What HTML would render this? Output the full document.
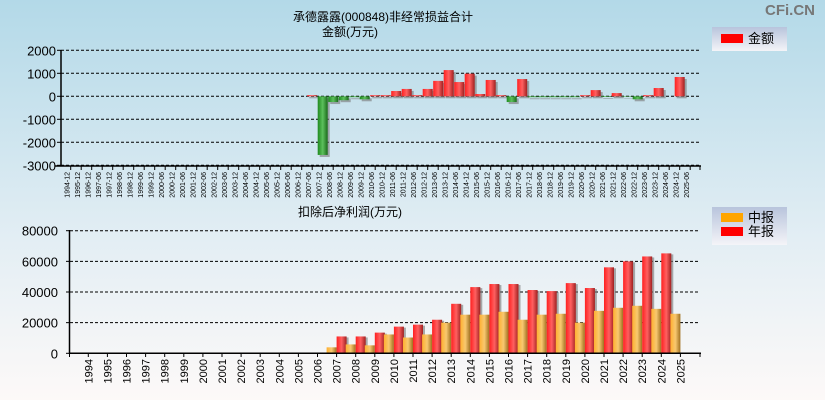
<!DOCTYPE html>
<html><head><meta charset="utf-8"><style>
html,body{margin:0;padding:0;}
body{width:825px;height:400px;overflow:hidden;font-family:"Liberation Sans","Noto Sans CJK SC",sans-serif;}
</style></head><body>
<svg id="c" width="825" height="400" xmlns="http://www.w3.org/2000/svg" style="font-family:'Liberation Sans','Noto Sans CJK SC',sans-serif">
<defs>
<linearGradient id="bg" x1="0" y1="0" x2="0" y2="1"><stop offset="0" stop-color="#b3d9e8"/><stop offset="0.6" stop-color="#e3eef4"/><stop offset="1" stop-color="#fdf9f8"/></linearGradient>
<linearGradient id="gr" x1="0" y1="0" x2="1" y2="0"><stop offset="0" stop-color="#ff2020"/><stop offset="0.5" stop-color="#ff6060"/><stop offset="1" stop-color="#a02020"/></linearGradient>
<linearGradient id="gg" x1="0" y1="0" x2="1" y2="0"><stop offset="0" stop-color="#1f8a1f"/><stop offset="0.5" stop-color="#5cc05c"/><stop offset="1" stop-color="#1a6a1a"/></linearGradient>
<linearGradient id="go" x1="0" y1="0" x2="1" y2="0"><stop offset="0" stop-color="#ffb030"/><stop offset="0.5" stop-color="#f8c870"/><stop offset="1" stop-color="#a07020"/></linearGradient>
<linearGradient id="lg" x1="0" y1="0" x2="0" y2="1"><stop offset="0" stop-color="#b8c4dc"/><stop offset="1" stop-color="#f4f4f8"/></linearGradient>
</defs>
<rect width="825" height="400" fill="url(#bg)"/>
<text x="790" y="15" font-size="15" fill="#777" font-weight="bold" text-anchor="middle">CFi.CN</text>
<text x="383" y="21" font-size="12" text-anchor="middle">承德露露(000848)非经常损益合计</text>
<text x="350" y="36" font-size="12" text-anchor="middle">金额(万元)</text>
<text x="350" y="216" font-size="12" text-anchor="middle">扣除后净利润(万元)</text>
<g>
<rect x="712" y="27" width="75" height="24" fill="url(#lg)"/>
<rect x="721" y="34" width="22" height="9" fill="#ff0000"/>
<text x="748" y="43" font-size="13">金额</text>
</g>
<g>
<rect x="712" y="207" width="75" height="38" fill="url(#lg)"/>
<rect x="721" y="213" width="22" height="9" fill="#ffa500"/>
<text x="748" y="222" font-size="13">中报</text>
<rect x="721" y="227" width="22" height="9" fill="#ff0000"/>
<text x="748" y="236" font-size="13">年报</text>
</g>
<g id="top"></g><g id="bot"></g>
</svg>
<script>
const topCats = ["1994-12","1995-12","1996-12"];
for (let y = 1997; y <= 2025; y++) { topCats.push(y + "-06"); if (y < 2025) topCats.push(y + "-12"); }
const topVals = [0,0,0, 0,0,0,0,0,0,0,0,0,0,0,0,0,0,0,0,0,0,0,0,
 50,-2550,-250,-170,-40,-130,50,50,230,320,50,320,670,1140,620,985,100,710,50,-250,750,-40,-40,-40,-40,-40,50,270,-30,140,-20,-130,50,360,0,840,0];
const topTicks = [2000,1000,0,-1000,-2000,-3000];
const botCats = [];
for (let y = 1994; y <= 2025; y++) botCats.push(String(y));
const interimVals = [0,0,0,0,0,0,0,0,0,0,0,0,0,3900,5800,5200,12300,10300,12300,20000,25200,25200,27100,21900,25200,25800,20000,27700,29700,31000,29000,25800];
const annualVals = [0,0,0,0,0,0,0,0,0,0,0,0,0,11000,11000,13500,17400,18700,21900,32300,43200,45200,45200,41300,40600,45800,42600,56100,60000,63200,65200,0];
const botTicks = [80000,60000,40000,20000,0];

const NS = "http://www.w3.org/2000/svg";
function mk(parent, tag, attrs, txt) {
  const e = document.createElementNS(NS, tag);
  for (const k in attrs) e.setAttribute(k, attrs[k]);
  if (txt !== undefined) e.textContent = txt;
  parent.appendChild(e); return e;
}
// top chart
const T = document.getElementById('top');
const tY = v => 96.3 - v * 0.023;
const tX = i => 70.7 + i * 10.5;
topTicks.forEach(v => {
  const l = mk(T, 'line', {x1:61, x2:700, y1:tY(v), y2:tY(v), stroke:'#000', 'stroke-dasharray':'3,2', 'stroke-width':1});
  
  
  const t = mk(T, 'text', {x:56, y:tY(v)+5, 'font-size':13, 'text-anchor':'end'}, String(v));
  
  
});
topVals.forEach((v, i) => {
  if (v === 0) return;
  const x = tX(i) - 5, y0 = tY(0), y1 = tY(v);
  const top = Math.min(y0, y1), h = Math.abs(y1 - y0);
  mk(T, 'rect', {x:x+2, y:top+2, width:10, height:h, fill:'#777', opacity:0.6});
  const r = mk(T, 'rect', {x:x, y:top, width:10, height:h, fill: v > 0 ? 'url(#gr)' : 'url(#gg)'});
  
  
});
mk(T, 'line', {x1:61, x2:61, y1:50, y2:166, stroke:'#000', 'stroke-width':1.5});
mk(T, 'line', {x1:55, x2:701, y1:166, y2:166, stroke:'#000', 'stroke-width':1.5});
mk(T, 'line', {x1:700, x2:700, y1:166, y2:170, stroke:'#000'});
topTicks.forEach(v => mk(T, 'line', {x1:57, x2:61, y1:tY(v), y2:tY(v), stroke:'#000'}));
topCats.forEach((c, i) => {
  const x = tX(i);
  mk(T, 'line', {x1:x, x2:x, y1:166, y2:170, stroke:'#000'});
  const t = mk(T, 'text', {x:0, y:0, 'font-size':7, 'text-anchor':'end', transform:`translate(${x-1},172) rotate(-90)`}, c);
  
  
});
// bottom chart
const B = document.getElementById('bot');
const bY = v => 353.3 - v * 0.0015325;
const bX = i => 88.3 + i * 19.1;
botTicks.forEach(v => {
  if (v !== 0) {
    const l = mk(B, 'line', {x1:70, x2:700, y1:bY(v), y2:bY(v), stroke:'#000', 'stroke-dasharray':'3,2', 'stroke-width':1});
    
    
  }
  const t = mk(B, 'text', {x:58, y:bY(v)+5, 'font-size':13, 'text-anchor':'end'}, String(v));
  
  
  mk(B, 'line', {x1:66, x2:70, y1:bY(v), y2:bY(v), stroke:'#000'});
});
botCats.forEach((c, i) => {
  const x = bX(i);
  const iv = interimVals[i], av = annualVals[i];
  if (iv > 0) {
    const r = mk(B, 'rect', {x:x-10, y:bY(iv), width:10, height:bY(0)-bY(iv), fill:'url(#go)'});
    
    
  }
  if (av > 0) {
    mk(B, 'rect', {x:x+2, y:bY(av)+1, width:10, height:bY(0)-bY(av)-1, fill:'#777', opacity:0.6});
    const r = mk(B, 'rect', {x:x, y:bY(av), width:10, height:bY(0)-bY(av), fill:'url(#gr)'});
    
    
  }
  mk(B, 'line', {x1:x, x2:x, y1:353, y2:357, stroke:'#000'});
  const t = mk(B, 'text', {x:0, y:0, 'font-size':11, 'text-anchor':'end', transform:`translate(${x+4},359) rotate(-90)`}, c);
  
  
});
mk(B, 'line', {x1:69.5, x2:69.5, y1:230, y2:354, stroke:'#000', 'stroke-width':1.5});
mk(B, 'line', {x1:69, x2:701, y1:353.3, y2:353.3, stroke:'#000', 'stroke-width':1.5});
mk(B, 'line', {x1:69.5, x2:69.5, y1:353, y2:357, stroke:'#000'});
mk(B, 'line', {x1:700, x2:700, y1:353, y2:357, stroke:'#000'});
</script>
</body></html>
